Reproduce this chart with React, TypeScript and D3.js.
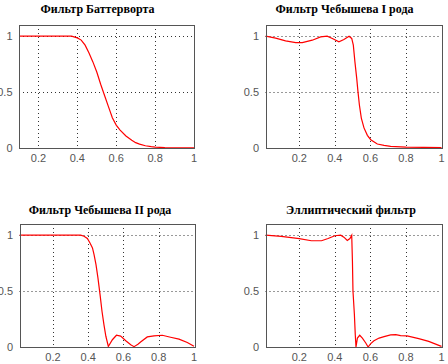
import React from 'react';
import * as d3 from 'd3';

// значения (нормированная частота / |H|)
const butterFreq = [0.1, 0.2, 0.3, 0.37, 0.4, 0.42, 0.44, 0.46, 0.48, 0.5, 0.52, 0.54, 0.56, 0.58, 0.6, 0.62, 0.65, 0.68, 0.7, 0.72, 0.75, 0.78, 0.8, 0.85, 0.9, 1];
const butterMag = [1, 1, 1, 1, 0.985, 0.965, 0.92, 0.85, 0.77, 0.68, 0.57, 0.47, 0.37, 0.27, 0.205, 0.16, 0.107, 0.07, 0.048, 0.035, 0.02, 0.012, 0.008, 0.004, 0.002, 0.001];

const cheby1Freq = [0.011, 0.067, 0.123, 0.18, 0.217, 0.273, 0.32, 0.357, 0.386, 0.423, 0.451, 0.48, 0.495, 0.504, 0.513, 0.523, 0.53, 0.538, 0.549, 0.564, 0.583, 0.602, 0.639, 0.677, 0.714, 0.8, 0.9, 1];
const cheby1Mag = [1, 0.982, 0.958, 0.943, 0.943, 0.964, 0.994, 1, 0.98, 0.95, 0.97, 1, 0.98, 0.92, 0.77, 0.625, 0.506, 0.387, 0.268, 0.18, 0.113, 0.074, 0.036, 0.024, 0.015, 0.008, 0.005, 0.004];

const cheby2Freq = [0.011, 0.357, 0.376, 0.395, 0.41, 0.424, 0.433, 0.444, 0.455, 0.467, 0.478, 0.489, 0.5, 0.514, 0.537, 0.56, 0.584, 0.613, 0.641, 0.66, 0.682, 0.697, 0.735, 0.773, 0.82, 0.867, 0.915, 0.962, 1];
const cheby2Mag = [1, 1, 0.99, 0.97, 0.93, 0.886, 0.826, 0.737, 0.618, 0.468, 0.32, 0.2, 0.096, 0.005, 0.065, 0.105, 0.097, 0.056, 0.02, 0.003, 0.024, 0.045, 0.09, 0.1, 0.105, 0.087, 0.07, 0.04, 0.006];

const ellipFreq = [0.011, 0.098, 0.2, 0.268, 0.325, 0.362, 0.4, 0.433, 0.451, 0.47, 0.485, 0.495, 0.499, 0.502, 0.51, 0.515, 0.519, 0.527, 0.54, 0.555, 0.574, 0.587, 0.602, 0.62, 0.649, 0.677, 0.714, 0.743, 0.77, 0.806, 0.872, 0.928, 0.985, 1];
const ellipMag = [1, 0.99, 0.97, 0.95, 0.95, 0.97, 0.995, 1, 0.982, 0.952, 0.97, 1, 0.767, 0.5, 0.29, 0.11, 0, 0.08, 0.105, 0.08, 0.036, 0, 0.03, 0.056, 0.08, 0.093, 0.108, 0.11, 0.102, 0.1, 0.075, 0.05, 0.015, 0.006];

const titles = ['Фильтр Баттерворта', 'Фильтр Чебышева I рода', 'Фильтр Чебышева II рода', 'Эллиптический фильтр'];
const xTicks = [0.2, 0.4, 0.6, 0.8, 1];
const yTicks = [0, 0.5, 1];

const panels = [
  { freq: butterFreq, mag: butterMag, xMin: 0.1, left: 19, right: 194, top: 25, bottom: 148, titleX: 97.5, titleY: 13 },
  { freq: cheby1Freq, mag: cheby1Mag, xMin: 0.01, left: 265.5, right: 441.5, top: 25, bottom: 148, titleX: 344.5, titleY: 13 },
  { freq: cheby2Freq, mag: cheby2Mag, xMin: 0.01, left: 19.5, right: 194, top: 224, bottom: 347, titleX: 100, titleY: 213.5 },
  { freq: ellipFreq, mag: ellipMag, xMin: 0.01, left: 265.5, right: 441.5, top: 224, bottom: 347, titleX: 351, titleY: 213.5 },
];

function Panel({ p, title }: { p: any; title: string }) {
  const x = d3.scaleLinear().domain([p.xMin, 1]).range([p.left, p.right]);
  const y = d3.scaleLinear().domain([0, 1.1]).range([p.bottom, p.top]);
  const pts: [number, number][] = p.freq.map((f: number, i: number) => [f, p.mag[i]]);
  const line = d3
    .line<[number, number]>()
    .x((d) => x(d[0]))
    .y((d) => y(d[1]));

  return (
    <g>
      <text
        x={p.titleX}
        y={p.titleY}
        textAnchor="middle"
        fontFamily="'Liberation Serif', 'Times New Roman', serif"
        fontWeight="bold"
        fontSize={12}
        fill="#000"
      >
        {title}
      </text>
      {/* сетка */}
      {xTicks
        .filter((t) => t < 1)
        .map((t) => (
          <line
            key={'gx' + t}
            x1={Math.round(x(t)) + 0.5}
            x2={Math.round(x(t)) + 0.5}
            y1={p.top}
            y2={p.bottom}
            stroke="#333"
            strokeDasharray="1,3"
          />
        ))}
      {yTicks
        .filter((t) => t > 0)
        .map((t) => (
          <line
            key={'gy' + t}
            x1={p.left}
            x2={p.right}
            y1={Math.round(y(t)) + 0.5}
            y2={Math.round(y(t)) + 0.5}
            stroke="#333"
            strokeDasharray="1,3"
          />
        ))}
      <path
        d={line(pts) || ''}
        fill="none"
        stroke="#ff0000"
        strokeWidth={1.2}
      />
      <rect
        x={Math.round(p.left) + 0.5}
        y={Math.round(p.top) + 0.5}
        width={Math.round(p.right - p.left)}
        height={Math.round(p.bottom - p.top)}
        fill="none"
        stroke="#555"
        strokeWidth={1}
      />
      {xTicks.map((t) => (
        <text
          key={'tx' + t}
          x={x(t)}
          y={p.bottom + 14}
          textAnchor="middle"
          fontFamily="'Liberation Sans', Arial, sans-serif"
          fontSize={11}
          fill="#555"
        >
          {String(t)}
        </text>
      ))}
      {yTicks.map((t) => (
        <text
          key={'ty' + t}
          x={p.left - 6.5}
          y={y(t) + 4}
          textAnchor="end"
          fontFamily="'Liberation Sans', Arial, sans-serif"
          fontSize={11}
          fill="#555"
        >
          {String(t)}
        </text>
      ))}
    </g>
  );
}

export default function App() {
  return (
    <svg
      width={448}
      height={364}
      style={{ position: 'absolute', left: 0, top: 0, background: '#fff' }}
    >
      {panels.map((p, i) => (
        <Panel key={i} p={p} title={titles[i]} />
      ))}
    </svg>
  );
}
